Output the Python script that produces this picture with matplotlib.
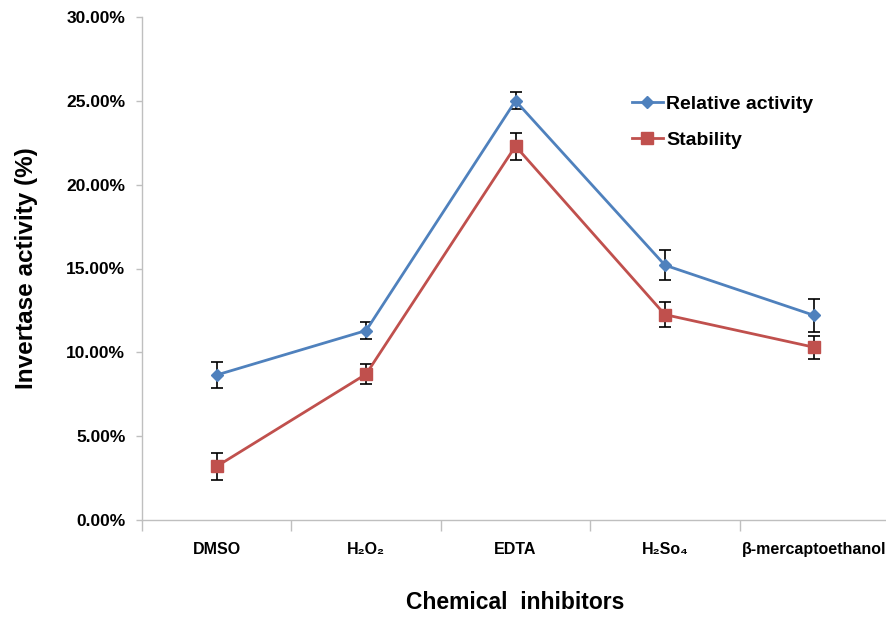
import numpy as np
import matplotlib.pyplot as plt
from matplotlib.ticker import FuncFormatter, FixedLocator

plt.rcParams['font.family'] = ['Liberation Sans', 'DejaVu Sans']
plt.rcParams['font.weight'] = 'bold'

inhibitors = ['DMSO', 'H\u2082O\u2082', 'EDTA', 'H\u2082So\u2084', '\u03b2-mercaptoethanol']
relative_activity = [8.65, 11.3, 25.0, 15.2, 12.2]
relative_err = [0.8, 0.5, 0.5, 0.9, 1.0]
stability = [3.2, 8.7, 22.3, 12.25, 10.3]
stability_err = [0.8, 0.6, 0.8, 0.75, 0.7]

blue = '#4F81BD'
red = '#C0504D'
grey = '#BFBFBF'

fig = plt.figure(figsize=(8.86, 6.17), dpi=100)
ax = fig.add_axes([142 / 886, 97 / 617, 747 / 886, 503 / 617])

x = np.arange(len(inhibitors))
ax.errorbar(x, relative_activity, yerr=relative_err, color=blue, lw=2,
            marker='D', ms=6, ecolor='black', elinewidth=1.2, capsize=4,
            capthick=1.2, label='Relative activity', zorder=3)
ax.errorbar(x, stability, yerr=stability_err, color=red, lw=2,
            marker='s', ms=8, ecolor='black', elinewidth=1.2, capsize=4,
            capthick=1.2, label='Stability', zorder=3)

ax.set_xlim(-0.5, len(inhibitors) - 0.5)
ax.set_ylim(0, 30)
ax.set_yticks(np.arange(0, 31, 5))
ax.yaxis.set_major_formatter(FuncFormatter(lambda v, p: f'{v:.2f}%'))

ax.set_xticks(x)
ax.set_xticklabels(inhibitors, fontsize=11.5, fontweight='bold')
ax.xaxis.set_minor_locator(FixedLocator(np.arange(-0.5, len(inhibitors), 1.0)))
ax.tick_params(axis='x', which='major', length=0, pad=16)
ax.tick_params(axis='x', which='minor', length=8, color=grey, width=1)
ax.tick_params(axis='y', length=4, color=grey, width=1, pad=8, labelsize=12.5)
for lbl in ax.get_yticklabels():
    lbl.set_fontweight('bold')

for side in ['top', 'right']:
    ax.spines[side].set_visible(False)
for side in ['left', 'bottom']:
    ax.spines[side].set_color(grey)
    ax.spines[side].set_linewidth(1)

ax.set_ylabel('Invertase activity (%)', fontsize=17.5, fontweight='bold', labelpad=20)
ax.set_xlabel('Chemical  inhibitors', fontsize=16.5, fontweight='bold', labelpad=24)

handles, labels = ax.get_legend_handles_labels()
handles = [h[0] for h in handles]
ax.legend(handles, labels, loc='upper left', bbox_to_anchor=(614 / 886, 1 - 78 / 617),
          bbox_transform=fig.transFigure, frameon=False,
          handlelength=1.6, handletextpad=0.2, labelspacing=0.95,
          prop={'weight': 'bold', 'size': 14})

fig.savefig('out.png', dpi=100)
